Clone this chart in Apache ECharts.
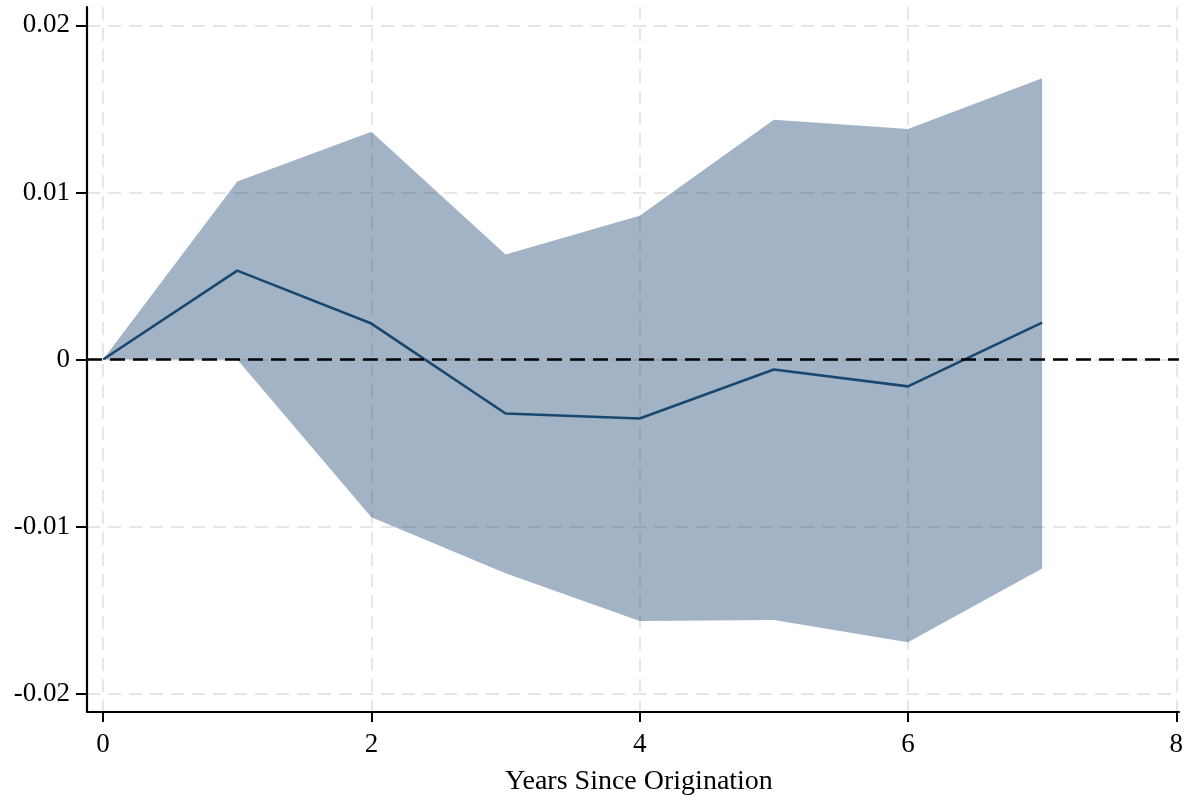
<!DOCTYPE html>
<html>
<head>
<meta charset="utf-8">
<script src="https://cdn.jsdelivr.net/npm/echarts@6/dist/echarts.min.js"></script>
<style>
  html, body { margin: 0; padding: 0; background: #ffffff; overflow: hidden; }
  #chart { width: 1186px; height: 801px; }
</style>
</head>
<body>
<div id="chart"></div>
<script>
// Years since origination and the estimated effect with its confidence band
const years = [0, 1, 2, 3, 4, 5, 6, 7];
const estimate = [0, 0.00532, 0.00215, -0.00323, -0.00353, -0.00060, -0.00161, 0.00221];
const upperBound = [0, 0.01066, 0.01363, 0.00628, 0.00861, 0.01435, 0.01379, 0.01684];
const lowerBound = [0, 0.00000, -0.00944, -0.01279, -0.01566, -0.01560, -0.01693, -0.01251];

const xTicks = [0, 2, 4, 6, 8];
const yTicks = [-0.02, -0.01, 0, 0.01, 0.02];
const xTitle = 'Years Since Origination';

const serif = '"Liberation Serif", "Times New Roman", "DejaVu Serif", serif';
const navy = '#1a476f';

const pts = (vals) => years.map((x, i) => [x, vals[i]]);
const bandRows = years.map((x, i) => [x, lowerBound[i], upperBound[i]]);

// Draw the confidence band as one closed polygon: upper edge left→right, lower edge right→left
function renderBand(params, api) {
  if (params.dataIndexInside !== 0) return null;
  const top = years.map((x, i) => api.coord([x, upperBound[i]]));
  const bottom = years.map((x, i) => api.coord([x, lowerBound[i]])).reverse();
  return {
    type: 'polygon',
    shape: { points: top.concat(bottom) },
    style: { fill: 'rgba(26,71,111,0.41)' },
    silent: true
  };
}

const gridLine = { show: true, showMinLine: true, showMaxLine: true,
  lineStyle: { color: '#e6e6e6', width: 2, type: [13, 8] } };

const chart = echarts.init(document.getElementById('chart'), null, { renderer: 'canvas' });

chart.setOption({
  animation: false,
  backgroundColor: '#ffffff',
  grid: { left: 87, right: 0, top: 7, bottom: 87, containLabel: false },
  xAxis: {
    type: 'value',
    min: -0.12,
    max: 8.02,
    name: xTitle,
    nameLocation: 'middle',
    nameGap: 56,
    nameTextStyle: { fontFamily: serif, fontSize: 28, color: '#000', padding: [0, 0, 0, 12] },
    axisLine: { show: true, onZero: false, lineStyle: { color: '#000', width: 2.2 } },
    axisTick: { show: true, customValues: xTicks, length: 10, lineStyle: { color: '#000', width: 2 } },
    axisLabel: {
      customValues: xTicks,
      margin: 19,
      fontFamily: serif, fontSize: 27, color: '#000',
      formatter: (v) => String(v)
    },
    splitLine: gridLine
  },
  yAxis: {
    type: 'value',
    min: -0.0211,
    max: 0.0211,
    axisLine: { show: true, onZero: false, lineStyle: { color: '#000', width: 2.2 } },
    axisTick: { show: true, customValues: yTicks, length: 11, lineStyle: { color: '#000', width: 2 } },
    axisLabel: {
      customValues: yTicks,
      margin: 17,
      fontFamily: serif, fontSize: 27, color: '#000',
      formatter: (v) => (Math.abs(v) < 1e-12 ? '0' : String(Math.round(v * 100) / 100))
    },
    splitLine: gridLine
  },
  series: [
    {
      // zero reference line
      name: 'zero',
      type: 'line',
      data: [],
      z: 1,
      silent: true,
      markLine: {
        silent: true,
        symbol: ['none', 'none'],
        label: { show: false },
        lineStyle: { color: '#000', width: 2.6, type: [15, 8] },
        data: [{ yAxis: 0 }]
      }
    },
    {
      name: 'band',
      type: 'custom',
      data: bandRows,
      encode: { x: 0, y: [1, 2] },
      renderItem: renderBand,
      z: 2,
      silent: true
    },
    {
      name: 'estimate',
      type: 'line',
      data: pts(estimate),
      symbol: 'none',
      lineStyle: { color: navy, width: 2.6 },
      z: 3,
      silent: true
    }
  ]
});
</script>
</body>
</html>
